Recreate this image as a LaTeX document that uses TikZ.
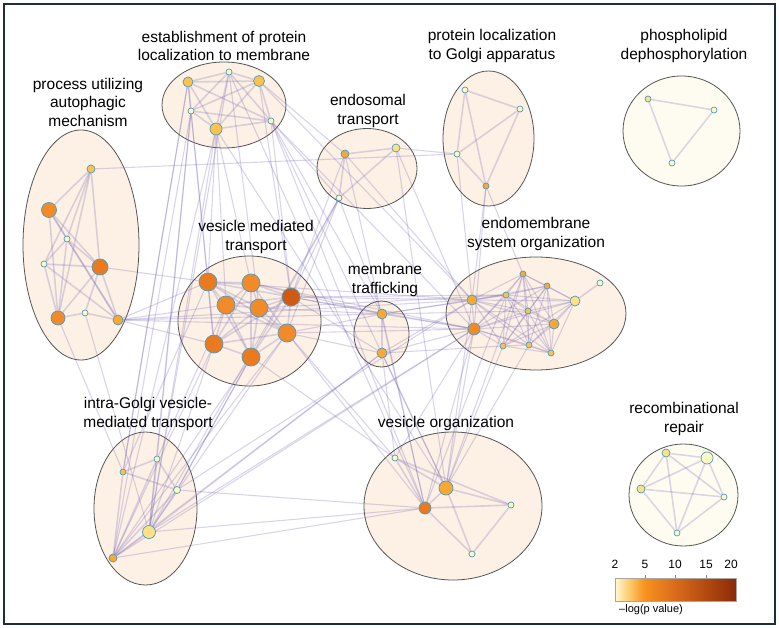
\documentclass[tikz,border=0pt]{standalone}
\usepackage{fontspec}
\setmainfont{Liberation Sans}
\usetikzlibrary{shapes.geometric}
\pgfdeclarelayer{bg}\pgfdeclarelayer{edges}
\pgfsetlayers{bg,edges,main}
\definecolor{cpale}{HTML}{FFF8C2}
\definecolor{clight}{HTML}{FDE184}
\definecolor{cyo}{HTML}{FBC24C}
\definecolor{cor1}{HTML}{F9A831}
\definecolor{cor2}{HTML}{F18B2A}
\definecolor{cor3}{HTML}{EA7A20}
\definecolor{cdark}{HTML}{CF5A12}
\definecolor{ndline}{HTML}{4F9AC0}
\definecolor{edcol}{HTML}{7B68B8}
\definecolor{clfill}{HTML}{FCF1E4}
\definecolor{clfillw}{HTML}{FEFCF0}
\definecolor{clline}{HTML}{555555}
\definecolor{frame}{HTML}{1E2D3D}
\definecolor{cb0}{HTML}{FFF8D2}
\definecolor{cb1}{HTML}{FCD27A}
\definecolor{cb2}{HTML}{F7931E}
\definecolor{cb3}{HTML}{D96B1C}
\definecolor{cb4}{HTML}{8B2A06}
\pgfdeclarehorizontalshading{cbar}{100bp}{color(0bp)=(cb0); color(25bp)=(cb0); color(30bp)=(cb1); color(37bp)=(cb2); color(50bp)=(cb3); color(75bp)=(cb4); color(100bp)=(cb4)}
\tikzset{
  cl/.style={ellipse, draw=clline, line width=0.8pt, fill=clfill, inner sep=0pt},
  clw/.style={cl, fill=clfillw},
  nd/.style={circle, draw=ndline, line width=0.7pt, inner sep=0pt, minimum size={2*#1pt}},
  ed/.style={draw=edcol, draw opacity=0.28, line width=1.1pt},
  et/.style={draw=edcol, draw opacity=0.26, line width=1.6pt},
  lbl/.style={align=center, font=\fontsize{15.5}{18.5}\selectfont, inner sep=0pt},
  tick/.style={font=\fontsize{12}{14}\selectfont, inner sep=0pt}
}
\begin{document}
\begin{tikzpicture}[x=1pt,y=-1pt]
\useasboundingbox (0,0) rectangle (779,628);
% clusters
\begin{pgfonlayer}{bg}
\fill[white] (0,0) rectangle (779,628);
\node[cl, minimum width=116pt, minimum height=230pt] (cA) at (81,245) {};
\node[cl, minimum width=124pt, minimum height=86pt] (cE) at (224,105) {};
\node[cl, minimum width=100pt, minimum height=80pt] (cN) at (367,168.5) {};
\node[cl, minimum width=91pt, minimum height=135pt] (cG) at (488.5,138.5) {};
\node[clw, minimum width=117pt, minimum height=110pt] (cP) at (681.5,131) {};
\node[cl, minimum width=143pt, minimum height=130pt] (cV) at (249.5,321) {};
\node[cl, minimum width=55pt, minimum height=66pt] (cM) at (381.5,334) {};
\node[cl, minimum width=180pt, minimum height=113pt] (cD) at (536,313.5) {};
\node[cl, minimum width=103pt, minimum height=153pt] (cI) at (145.5,508.5) {};
\node[cl, minimum width=178pt, minimum height=148pt] (cO) at (453,506) {};
\node[clw, minimum width=109pt, minimum height=102pt] (cR) at (683.5,495) {};
\end{pgfonlayer}
\draw[frame, line width=2pt] (4,4) rectangle (775,624);
% labels
\node[lbl] (tA) at (88,102) {process utilizing\\autophagic\\mechanism};
\node[lbl] (tE) at (224,46) {establishment of protein\\localization to membrane};
\node[lbl] (tN) at (368,111) {endosomal\\transport};
\node[lbl] (tG) at (492,46) {protein localization\\to Golgi apparatus};
\node[lbl] (tP) at (684,46) {phospholipid\\dephosphorylation};
\node[lbl] (tV) at (256,237) {vesicle mediated\\transport};
\node[lbl] (tM) at (385,280) {membrane\\trafficking};
\node[lbl] (tD) at (536,234) {endomembrane\\system organization};
\node[lbl] (tI) at (148,414) {intra-Golgi vesicle-\\mediated transport};
\node[lbl] (tO) at (446,423) {vesicle organization};
\node[lbl] (tR) at (684,419) {recombinational\\repair};
% nodes
\node[nd=4, fill=cyo] (A1) at (91,169) {};
\node[nd=7.5, fill=cor2] (A2) at (49,210) {};
\node[nd=3, fill=cpale] (A3) at (67,239) {};
\node[nd=3, fill=cpale] (A4) at (44,264) {};
\node[nd=8, fill=cor3] (A5) at (100,267) {};
\node[nd=7, fill=cor2] (A6) at (58,318) {};
\node[nd=3, fill=cpale] (A7) at (85,313) {};
\node[nd=5, fill=cor1] (A8) at (118,320) {};
\node[nd=5, fill=cyo] (E1) at (188,82) {};
\node[nd=3, fill=cpale] (E2) at (229,72) {};
\node[nd=5.5, fill=cyo] (E3) at (259,81) {};
\node[nd=3, fill=cpale] (E4) at (191,111) {};
\node[nd=6, fill=cyo] (E5) at (216,129) {};
\node[nd=3, fill=cpale] (E6) at (271,121) {};
\node[nd=4, fill=cor1] (N1) at (345,154) {};
\node[nd=4, fill=clight] (N2) at (396,148) {};
\node[nd=3, fill=cpale] (N3) at (339,198) {};
\node[nd=3, fill=cpale] (G1) at (465,90) {};
\node[nd=3, fill=cpale] (G2) at (520,109) {};
\node[nd=3, fill=cpale] (G3) at (457,154) {};
\node[nd=3, fill=cor1] (G4) at (486,186) {};
\node[nd=3, fill=clight] (P1) at (648,99) {};
\node[nd=3, fill=cpale] (P2) at (714,110) {};
\node[nd=3, fill=cpale] (P3) at (672,163) {};
\node[nd=9, fill=cor3] (V1) at (208,282) {};
\node[nd=9, fill=cor2] (V2) at (251,283) {};
\node[nd=9, fill=cdark] (V3) at (291,297) {};
\node[nd=9, fill=cor2] (V4) at (226,305) {};
\node[nd=9, fill=cor2] (V5) at (259,308) {};
\node[nd=9, fill=cor2] (V6) at (287,333) {};
\node[nd=9, fill=cor3] (V7) at (214,344) {};
\node[nd=9, fill=cor3] (V8) at (251,357) {};
\node[nd=5, fill=cor1] (M1) at (382,314) {};
\node[nd=5, fill=cor1] (M2) at (382,353) {};
\node[nd=3, fill=cor1] (D1) at (523,274) {};
\node[nd=3, fill=cor1] (D2) at (547,286) {};
\node[nd=3, fill=cpale] (D3) at (600,283) {};
\node[nd=3, fill=cyo] (D4) at (506,295) {};
\node[nd=5, fill=cor1] (D5) at (472,300) {};
\node[nd=5, fill=clight] (D6) at (575,301) {};
\node[nd=3, fill=cyo] (D7) at (528,311) {};
\node[nd=6, fill=cor2] (D8) at (474,329) {};
\node[nd=5, fill=cor1] (D9) at (554,324) {};
\node[nd=3, fill=cyo] (D10) at (503,346) {};
\node[nd=3, fill=cyo] (D11) at (529,345) {};
\node[nd=3, fill=cyo] (D12) at (551,353) {};
\node[nd=3, fill=cpale] (I1) at (157,459) {};
\node[nd=3, fill=cyo] (I2) at (123,472) {};
\node[nd=3.5, fill=cpale] (I3) at (177,490) {};
\node[nd=6.5, fill=clight] (I4) at (149,532) {};
\node[nd=4, fill=cor1] (I5) at (113,558) {};
\node[nd=3, fill=cpale] (O1) at (395,458) {};
\node[nd=7, fill=cor1] (O2) at (446,488) {};
\node[nd=6, fill=cor3] (O3) at (425,508) {};
\node[nd=3, fill=cpale] (O4) at (511,505) {};
\node[nd=3, fill=cpale] (O5) at (472,554) {};
\node[nd=4, fill=clight] (R1) at (666,453) {};
\node[nd=6, fill=cpale] (R2) at (707,458) {};
\node[nd=4, fill=clight] (R3) at (641,489) {};
\node[nd=3, fill=cpale] (R4) at (724,497) {};
\node[nd=3, fill=cpale] (R5) at (677,533) {};
% edges
\begin{pgfonlayer}{edges}
\foreach \a/\b in {A1/A2,A1/A3,A1/A4,A1/A6,A1/A5,A2/A3,A2/A6,A2/A5,A2/A8,A3/A4,A3/A5,A3/A8,A3/A6,A4/A5,A4/A6,A4/A8,A5/A6,A5/A8,A5/A7,A6/A7,A7/A8,
  N1/N2,N1/N3,N2/N3,G1/G2,G1/G3,G1/G4,G2/G3,G2/G4,G3/G4,P1/P2,P1/P3,P2/P3,M1/M2,D3/D6,
  I1/I2,I2/I3,I1/I3,I1/I4,I2/I5,I3/I4,I4/I5,I1/I5,I3/I5,
  O1/O2,O1/O3,O1/O4,O2/O3,O2/O4,O3/O4,O2/O5,O3/O5,O4/O5,
  R1/R2,R1/R3,R1/R4,R1/R5,R2/R3,R2/R5,R2/R4,R3/R4,R3/R5,R4/R5}
  \draw[et] (\a) -- (\b);
\foreach \i in {1,...,8}{\foreach \j in {\i,...,8}{\ifnum\i<\j \draw[et] (V\i) -- (V\j);\fi}}
\foreach \i in {1,...,6}{\foreach \j in {\i,...,6}{\ifnum\i<\j \draw[et] (E\i) -- (E\j);\fi}}
\foreach \i in {1,2,4,5,6,7,8,9,10,11,12}{\foreach \j in {1,2,4,5,6,7,8,9,10,11,12}{\ifnum\i<\j \draw[ed] (D\i) -- (D\j);\fi}}
\foreach \a/\b in {A1/G3,A8/V1,A8/V4,A8/V7,A8/M1,A8/D5,A8/D8,A5/V1,A7/I4,A6/I2,
  E5/V1,E5/V2,E5/V4,E4/V1,E6/V3,E3/V3,E5/I4,E4/I5,E6/M1,E3/D5,E6/D8,E2/O3,E6/O2,E3/N1,E6/N3,E1/V7,E2/V5,
  E1/I2,E5/I5,E2/I4,E4/I4,
  N1/V3,N3/V3,N3/V6,N1/D5,N2/D8,N3/M1,N2/O2,N1/O3,N3/I4,N2/G3,N3/I3,
  G4/D1,G4/D5,G4/D8,G3/D5,
  V3/M1,V5/M1,V6/M1,V6/M2,V2/M1,V3/M2,V3/D5,V3/D8,V6/D8,V1/D5,V2/D8,V5/D4,V3/D4,
  M1/D5,M1/D8,M1/D4,M2/D8,M2/D10,M1/D7,M2/D5,
  I4/V7,I4/V6,I5/V7,I5/V8,I3/V8,I5/M2,I4/M2,I5/D8,I4/D8,I3/D5,I5/O3,I2/V1,I1/V4,I4/O3,I5/V6,I3/O3,I1/E4,I2/E1,
  O2/D5,O2/D8,O3/D8,O2/D10,O3/D4,O2/D11,O3/M1,O2/M2,O1/V8,O3/V6,O1/V6,O1/M2,O2/E5,O3/E6,O1/D8,O2/D1}
  \draw[ed] (\a) -- (\b);
\end{pgfonlayer}
% colour bar
\shade[shading=cbar] (615,578) rectangle (736,601);
\draw[gray!70, line width=0.5pt] (615,578) rectangle (736,601);
\foreach \x in {645,675,706} \draw[gray, line width=0.5pt] (\x,575) -- (\x,578);
\node[tick] (k2) at (615,564) {2};
\node[tick] (k5) at (645,564) {5};
\node[tick] (k10) at (675,564) {10};
\node[tick] (k15) at (706,564) {15};
\node[tick] (k20) at (731,564) {20};
\node[font=\fontsize{11}{13}\selectfont, inner sep=0pt] (cbl) at (651,610) {–log(p value)};
\end{tikzpicture}
\end{document}
